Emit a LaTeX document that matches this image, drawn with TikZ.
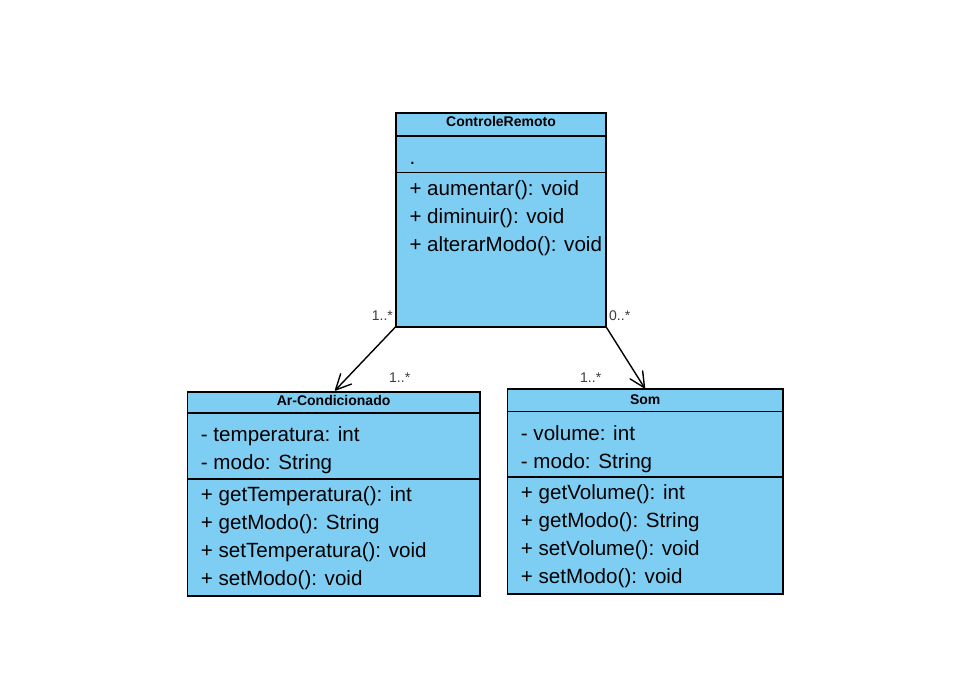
\documentclass[tikz,border=0pt]{standalone}
\usepackage{fontspec}
\setmainfont{Liberation Sans}
\usetikzlibrary{calc}
\definecolor{classfill}{RGB}{126,206,244}
\definecolor{multc}{RGB}{60,60,60}
\tikzset{
  classbox/.style={draw=black, fill=classfill, line width=1.6pt, anchor=north west, inner sep=0pt, outer sep=0pt},
  sepline/.style={line width=1.6pt},
  title/.style={font=\fontsize{14}{16}\selectfont\bfseries, anchor=base, inner sep=0pt},
  member/.style={font=\fontsize{20.6}{25}\selectfont, anchor=base west, inner sep=0pt},
  mult/.style={font=\fontsize{14}{16}\selectfont, text=multc, anchor=base west, inner sep=0pt},
  assoc/.style={line width=1.4pt, line cap=round, line join=round}
}
\begin{document}
\begin{tikzpicture}[x=1pt,y=-1pt]
\useasboundingbox (0,0) rectangle (968,674);
% ControleRemoto
\node[classbox, minimum width=210.3pt, minimum height=213.4pt] (cr) at (395.7,113.3) {};
\coordinate (crs1) at (395.7,135.7);
\coordinate (crs2) at (395.7,172.3);
\draw[sepline] (crs1) -- (crs1 -| cr.east);
\draw[sepline] (crs2) -- (crs2 -| cr.east);
\node[title] (crt) at (501,126.7) {ControleRemoto};
\node[member] (cra) at (409.3,164) {.};
\node[member] (crm1) at (409.3,195) {+ aumentar(): void};
\node[member] (crm2) at (409.3,223) {+ diminuir(): void};
\node[member] (crm3) at (409.3,251) {+ alterarModo(): void};
% Ar-Condicionado
\node[classbox, minimum width=292.7pt, minimum height=204.3pt] (ac) at (187.3,391.7) {};
\coordinate (acs1) at (187.3,413);
\coordinate (acs2) at (187.3,479);
\draw[sepline] (acs1) -- (acs1 -| ac.east);
\draw[sepline] (acs2) -- (acs2 -| ac.east);
\node[title] (act) at (333.6,405) {Ar-Condicionado};
\node[member] (aca1) at (200.7,441.7) {- temperatura: int};
\node[member] (aca2) at (200.7,469.7) {- modo: String};
\node[member] (acm1) at (200.7,501.7) {+ getTemperatura(): int};
\node[member] (acm2) at (200.7,529.7) {+ getModo(): String};
\node[member] (acm3) at (200.7,557.5) {+ setTemperatura(): void};
\node[member] (acm4) at (200.7,585.3) {+ setModo(): void};
% Som
\node[classbox, minimum width=275.7pt, minimum height=205pt] (som) at (507.3,389) {};
\coordinate (ss1) at (507.3,411.5);
\coordinate (ss2) at (507.3,477);
\draw[sepline] (ss1) -- (ss1 -| som.east);
\draw[sepline] (ss2) -- (ss2 -| som.east);
\node[title] (st) at (645.2,404) {Som};
\node[member] (sa1) at (520.7,440) {- volume: int};
\node[member] (sa2) at (520.7,468) {- modo: String};
\node[member] (sm1) at (520.7,499.5) {+ getVolume(): int};
\node[member] (sm2) at (520.7,527.5) {+ getModo(): String};
\node[member] (sm3) at (520.7,555.5) {+ setVolume(): void};
\node[member] (sm4) at (520.7,583.5) {+ setModo(): void};
% associations
\coordinate (acin) at (335.5,390);
\coordinate (somin) at (644.5,387.8);
\draw[assoc] (cr.south west) -- (acin);
\draw[assoc] ($(acin)!17pt!26:(cr.south west)$) -- (acin) -- ($(acin)!17pt!-26:(cr.south west)$);
\draw[assoc] (cr.south east) -- (somin);
\draw[assoc] ($(somin)!17pt!26:(cr.south east)$) -- (somin) -- ($(somin)!17pt!-26:(cr.south east)$);
\node[mult] (m1) at (371.7,320) {1..*};
\node[mult] (m2) at (609,320) {0..*};
\node[mult] (m3) at (389,382.7) {1..*};
\node[mult] (m4) at (580,382.7) {1..*};
\end{tikzpicture}
\end{document}
